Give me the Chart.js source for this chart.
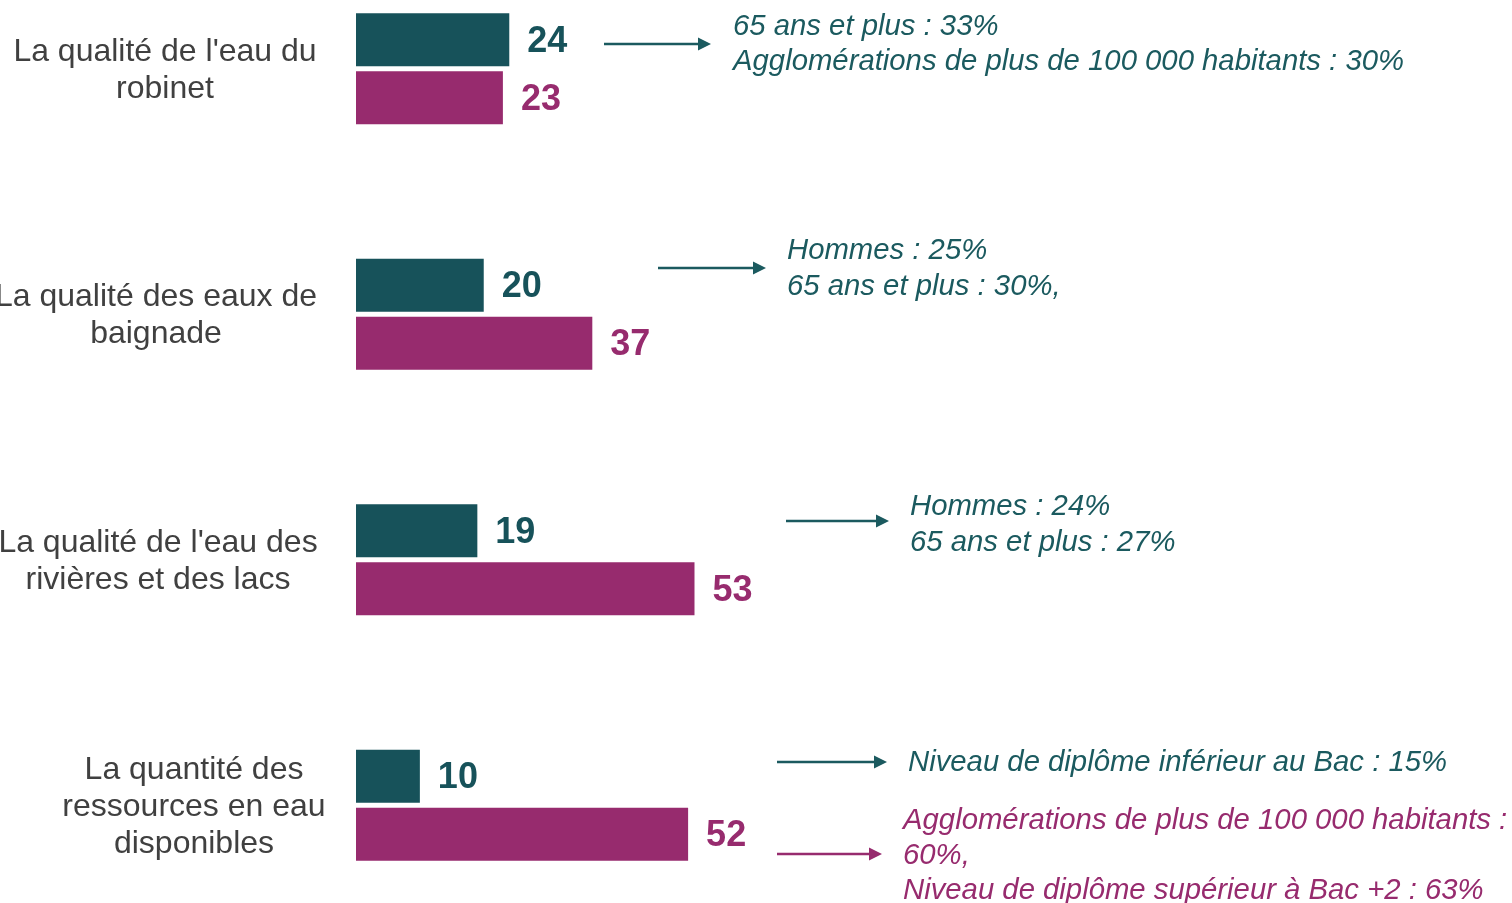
<!DOCTYPE html>
<html lang="fr">
<head>
<meta charset="utf-8">
<script src="https://cdn.jsdelivr.net/npm/chart.js@4.4.0/dist/chart.umd.min.js"></script>
<style>
  html, body { margin: 0; padding: 0; background: #fff; overflow: hidden; }
  #wrap { position: relative; width: 1512px; height: 903px; overflow: hidden; }
  #chart { position: absolute; left: 0; top: -54px; }
</style>
</head>
<body>
<div id="wrap"><canvas id="chart" width="1512" height="982"></canvas></div>
<script>
// Données
const categories = [
    ["La qualité de l'eau du", "robinet"],
    ["La qualité des eaux de", "baignade"],
    ["La qualité de l'eau des", "rivières et des lacs"],
    ["La quantité des", "ressources en eau", "disponibles"]
];
const serieTeal = [24, 20, 19, 10];
const serieMagenta = [23, 37, 53, 52];

const notesTeal = [
    ["65 ans et plus : 33%", "Agglomérations de plus de 100 000 habitants : 30%"],
    ["Hommes : 25%", "65 ans et plus : 30%,"],
    ["Hommes : 24%", "65 ans et plus : 27%"],
    ["Niveau de diplôme inférieur au Bac : 15%"]
];
const noteMagenta = ["Agglomérations de plus de 100 000 habitants :", "60%,", "Niveau de diplôme supérieur à Bac +2 : 63%"];

const COLORS = { teal: '#17525A', magenta: '#972B6E', label: '#404040', noteTeal: '#1B5A5F' };
const OFFSET_Y = 54; // décalage du canvas

// Position des libellés (centre x) et des annotations, en pixels de page
const labelCenters = [165, 156, 158, 194];
const noteLayout = [
    { x1: 604, x2: 711, ay: 44, tx: 733, ty: [27, 62], color: COLORS.noteTeal, lines: notesTeal[0] },
    { x1: 658, x2: 766, ay: 268, tx: 787, ty: [251, 287], color: COLORS.noteTeal, lines: notesTeal[1] },
    { x1: 786, x2: 889, ay: 521, tx: 910, ty: [507, 543], color: COLORS.noteTeal, lines: notesTeal[2] },
    { x1: 777, x2: 887, ay: 762, tx: 908, ty: [763], color: COLORS.noteTeal, lines: notesTeal[3] },
    { x1: 777, x2: 882, ay: 854, tx: 903, ty: [821, 856, 891], color: COLORS.magenta, lines: noteMagenta }
];

const labelsPlugin = {
    id: 'labelsPlugin',
    afterDatasetsDraw(chart) {
        const ctx = chart.ctx;
        const yScale = chart.scales.y;
        ctx.save();

        // libellés des catégories
        ctx.font = '32px "Liberation Sans", Arial, sans-serif';
        ctx.fillStyle = COLORS.label;
        ctx.textAlign = 'center';
        ctx.textBaseline = 'middle';
        categories.forEach((lines, i) => {
            const cy = yScale.getPixelForValue(i) + 1.5;
            const lh = 37;
            lines.forEach((line, j) => {
                ctx.fillText(line, labelCenters[i], cy + (j - (lines.length - 1) / 2) * lh);
            });
        });

        // valeurs au bout des barres
        ctx.font = 'bold 36px "Liberation Sans", Arial, sans-serif';
        ctx.textAlign = 'left';
        chart.data.datasets.forEach((ds, di) => {
            const meta = chart.getDatasetMeta(di);
            meta.data.forEach((bar, i) => {
                ctx.fillStyle = ds.backgroundColor;
                ctx.fillText(ds.data[i], bar.x + 18, bar.y + 2);
            });
        });

        // flèches et annotations
        noteLayout.forEach(n => {
            const ay = n.ay + OFFSET_Y;
            ctx.strokeStyle = n.color;
            ctx.fillStyle = n.color;
            ctx.lineWidth = 2.5;
            ctx.beginPath();
            ctx.moveTo(n.x1, ay);
            ctx.lineTo(n.x2 - 10, ay);
            ctx.stroke();
            ctx.beginPath();
            ctx.moveTo(n.x2, ay);
            ctx.lineTo(n.x2 - 13, ay - 6.5);
            ctx.lineTo(n.x2 - 13, ay + 6.5);
            ctx.closePath();
            ctx.fill();

            ctx.font = 'italic 29.3px "Liberation Sans", Arial, sans-serif';
            ctx.textBaseline = 'middle';
            n.lines.forEach((line, j) => {
                ctx.fillText(line, n.tx, n.ty[j] + OFFSET_Y);
            });
        });
        ctx.restore();
    }
};

new Chart(document.getElementById('chart'), {
    type: 'bar',
    data: {
        labels: categories,
        datasets: [
            { data: serieTeal, backgroundColor: COLORS.teal },
            { data: serieMagenta, backgroundColor: COLORS.magenta }
        ]
    },
    options: {
        indexAxis: 'y',
        responsive: false,
        animation: false,
        devicePixelRatio: 1,
        categoryPercentage: 0.4725,
        barPercentage: 0.914,
        layout: { padding: { left: 356, right: 0, top: 0, bottom: 0 } },
        scales: {
            x: { display: false, min: 0, max: 181 },
            y: { display: false }
        },
        plugins: { legend: { display: false }, tooltip: { enabled: false } }
    },
    plugins: [labelsPlugin]
});
</script>
</body>
</html>
